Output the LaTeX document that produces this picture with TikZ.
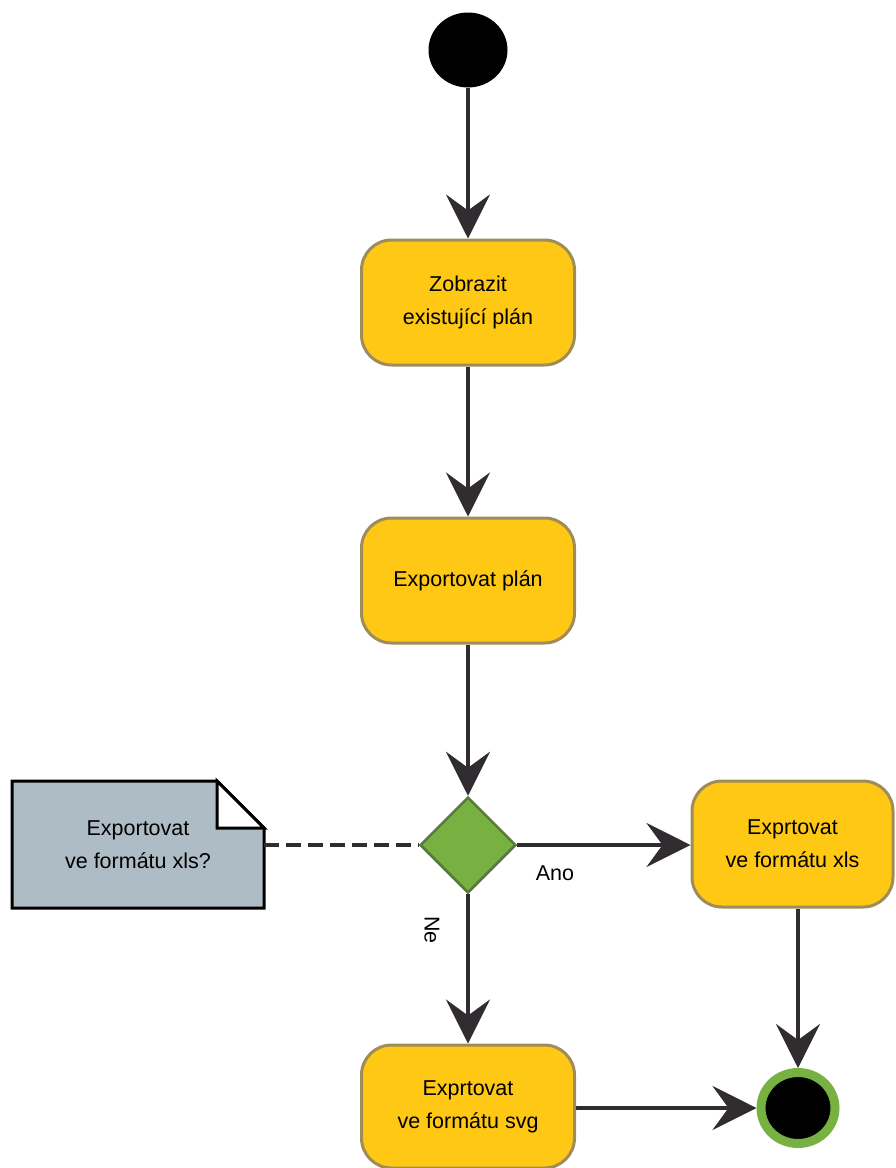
\documentclass[tikz,border=0pt]{standalone}
\usepackage{fontspec}
\setmainfont{Liberation Sans}
\usetikzlibrary{arrows.meta,shapes.geometric}
\definecolor{actfill}{HTML}{FEC815}
\definecolor{actline}{HTML}{9E8D5B}
\definecolor{flow}{HTML}{302C2F}
\definecolor{decfill}{HTML}{78B142}
\definecolor{decline}{HTML}{557A3A}
\definecolor{notefill}{HTML}{AEBDC5}
\definecolor{endring}{HTML}{77B142}
\tikzset{
  action/.style={draw=actline, fill=actfill, line width=3pt, rounded corners=30pt,
    minimum width=213pt, minimum height=125pt, align=center, font=\fontsize{21.5}{33}\selectfont},
  flowarrow/.style={draw=flow, line width=4pt,
    -{Stealth[length=44pt, width=44pt, inset=16pt]}},
  decision/.style={diamond, draw=decline, fill=decfill, line width=2.5pt,
    minimum width=96pt, minimum height=96pt, inner sep=0pt},
  lbl/.style={font=\fontsize{21.5}{26}\selectfont}
}
\begin{document}
\begin{tikzpicture}[x=1pt,y=-1pt]
\useasboundingbox (0,0) rectangle (895,1168);

% start
\node[ellipse, fill=black, minimum width=79pt, minimum height=75pt, inner sep=0pt] (start) at (468,50) {};

% activities
\node[action] (show) at (468,302.5) {Zobrazit\\existující plán};
\node[action] (export) at (468,580.5) {Exportovat plán};
\node[action, minimum width=201pt, minimum height=126pt] (xls) at (792.5,844) {Exprtovat\\ve formátu xls};
\node[action, minimum height=123pt] (svg) at (468,1106.5) {Exprtovat\\ve formátu svg};

% decision
\node[decision] (dec) at (468,845) {};

% note with folded corner
\coordinate (noteanchor) at (264,845);
\draw[fill=notefill, line width=3pt, line join=miter]
  (12,781) -- (217,781) -- (264,828) -- (264,908) -- (12,908) -- cycle;
\draw[fill=white, line width=3pt, line join=miter]
  (217,781) -- (217,828) -- (264,828) -- cycle;
\node[align=center, font=\fontsize{21.5}{33}\selectfont] (note) at (138,845) {Exportovat\\ve formátu xls?};

% final node
\node[ellipse, fill=black, draw=endring, line width=9pt, minimum width=74pt, minimum height=71pt, inner sep=0pt] (final) at (798,1108) {};

% guard labels
\node[lbl] (ano) at (555,873) {Ano};
\node[lbl, rotate=-90] (ne) at (432,930) {Ne};

% flows
\draw[flowarrow] (start) -- (show);
\draw[flowarrow] (show) -- (export);
\draw[flowarrow] (export) -- (dec);
\draw[flowarrow] (dec) -- (xls.west |- dec);
\draw[flowarrow] (dec) -- (svg);
\draw[flowarrow] (final |- xls.south) -- (final);
\draw[flowarrow] (svg.east |- final) -- (final);
\draw[draw=flow, line width=4pt, dash pattern=on 15pt off 7pt] (noteanchor) -- (dec);
\end{tikzpicture}
\end{document}
